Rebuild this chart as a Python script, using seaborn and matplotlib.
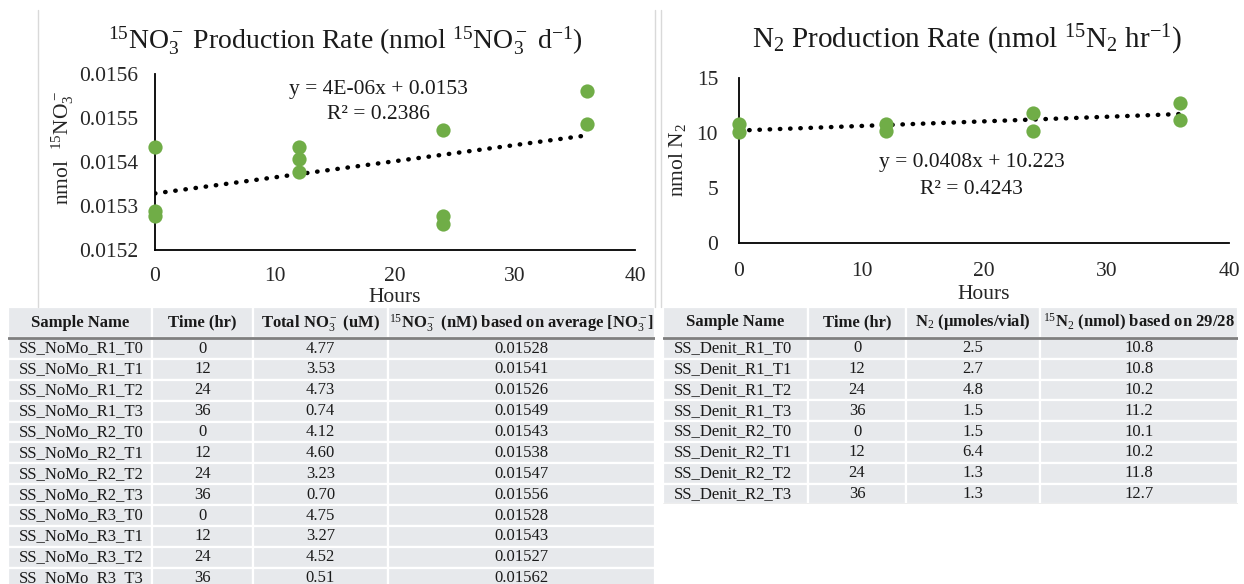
import numpy as np
import pandas as pd
import matplotlib
matplotlib.use("Agg")
import matplotlib.pyplot as plt
import seaborn as sns
from matplotlib.table import Table
from matplotlib.lines import Line2D
from matplotlib.ticker import FormatStrFormatter

# ---- 15NO3- incubation (left chart + table) ----
no3_samples = ["SS_NoMo_R1_T0", "SS_NoMo_R1_T1", "SS_NoMo_R1_T2", "SS_NoMo_R1_T3",
               "SS_NoMo_R2_T0", "SS_NoMo_R2_T1", "SS_NoMo_R2_T2", "SS_NoMo_R2_T3",
               "SS_NoMo_R3_T0", "SS_NoMo_R3_T1", "SS_NoMo_R3_T2", "SS_NoMo_R3_T3"]
no3_time = [0, 12, 24, 36, 0, 12, 24, 36, 0, 12, 24, 36]
no3_total = ["4.77", "3.53", "4.73", "0.74", "4.12", "4.60", "3.23", "0.70",
             "4.75", "3.27", "4.52", "0.51"]
no3_15 = ["0.01528", "0.01541", "0.01526", "0.01549", "0.01543", "0.01538",
          "0.01547", "0.01556", "0.01528", "0.01543", "0.01527", "0.01562"]

# points (R3_T3 is not plotted)
no3_hours = [0, 0, 0, 12, 12, 12, 24, 24, 24, 36, 36]
no3_vals = [0.015289, 0.015433, 0.015277, 0.015407, 0.015378, 0.015433,
            0.015259, 0.015473, 0.015277, 0.015487, 0.015561]

# ---- N2 incubation (right chart + table) ----
n2_samples = ["SS_Denit_R1_T0", "SS_Denit_R1_T1", "SS_Denit_R1_T2", "SS_Denit_R1_T3",
              "SS_Denit_R2_T0", "SS_Denit_R2_T1", "SS_Denit_R2_T2", "SS_Denit_R2_T3"]
n2_time = [0, 12, 24, 36, 0, 12, 24, 36]
n2_umol = ["2.5", "2.7", "4.8", "1.5", "1.5", "6.4", "1.3", "1.3"]
n2_15 = [10.8, 10.8, 10.2, 11.2, 10.1, 10.2, 11.8, 12.7]

no3_header = ["Sample Name", "Time (hr)", r"Total NO$_3^-$ (uM)",
              r"$^{15}$NO$_3^-$ (nM) based on average [NO$_3^-$]"]
n2_header = ["Sample Name", "Time (hr)", r"N$_2$ (µmoles/vial)",
             r"$^{15}$N$_2$ (nmol) based on 29/28"]

sns.set_style("white")
plt.rcParams["font.family"] = ["Liberation Serif", "DejaVu Serif"]
plt.rcParams["mathtext.fontset"] = "custom"
plt.rcParams["mathtext.rm"] = "Liberation Serif"
plt.rcParams["mathtext.it"] = "Liberation Serif:italic"
plt.rcParams["mathtext.bf"] = "Liberation Serif:bold"
plt.rcParams["text.color"] = "#1a1a1a"

W, H = 1244, 584
fig = plt.figure(figsize=(W / 100, H / 100), dpi=100)
green = "#70AD47"


def px_axes(l, t, r, b):
    return fig.add_axes([l / W, 1 - b / H, (r - l) / W, (b - t) / H])


def chart(ax, x, y, ylim, yticks, yfmt, xpad, ypad):
    df = pd.DataFrame({"Hours": x, "val": y})
    sns.regplot(data=df, x="Hours", y="val", ax=ax, scatter=False, ci=None, truncate=True,
                line_kws=dict(color="black", lw=3.2, ls=(0, (0.1, 2.2)),
                              dash_capstyle="round", zorder=2))
    sns.scatterplot(data=df, x="Hours", y="val", ax=ax, color=green, s=105,
                    linewidth=0, clip_on=False, zorder=4)
    ax.set_xlim(0, 40)
    ax.set_ylim(*ylim)
    ax.set_xticks([0, 10, 20, 30, 40])
    ax.set_yticks(yticks)
    ax.yaxis.set_major_formatter(FormatStrFormatter(yfmt))
    sns.despine(ax=ax)
    for s in ["left", "bottom"]:
        ax.spines[s].set_color("black")
        ax.spines[s].set_linewidth(1.3)
    ax.tick_params(axis="x", length=0, labelsize=15.5, pad=xpad)
    ax.tick_params(axis="y", length=0, labelsize=15.5, pad=ypad)
    ax.set_xlabel("Hours", fontsize=15.5)
    ax.set_ylabel("")


# left chart
ax1 = px_axes(155, 74, 635, 250)
chart(ax1, no3_hours, no3_vals, (0.0152, 0.0156),
      [0.0152, 0.0153, 0.0154, 0.0155, 0.0156], "%.4f", 12, 12)
ax1.xaxis.set_label_coords(0.5, -0.215)
ax1.set_ylabel(r"nmol  $^{15}$NO$_3^-$", fontsize=15.5)
ax1.yaxis.set_label_coords(-0.165, 0.58)
ax1.text(18.6, 0.015564, "y = 4E-06x + 0.0153", ha="center", va="center", fontsize=15.5)
ax1.text(18.6, 0.015507, "R² = 0.2386", ha="center", va="center", fontsize=15.5)
fig.text(345 / W, 1 - 40 / H,
         r"$^{15}$NO$_3^-$ Production Rate (nmol $^{15}$NO$_3^-$ d$^{-1}$)",
         ha="center", va="center", fontsize=20)

# right chart
ax2 = px_axes(739, 78, 1229, 243)
chart(ax2, n2_time, n2_15, (0, 15), [0, 5, 10, 15], "%d", 14, 15)
ax2.xaxis.set_label_coords(0.5, -0.255)
ax2.set_ylabel(r"nmol N$_2$", fontsize=15.5)
ax2.yaxis.set_label_coords(-0.104, 0.5)
ax2.text(19.0, 7.36, "y = 0.0408x + 10.223", ha="center", va="center", fontsize=15.5)
ax2.text(19.0, 4.85, "R² = 0.4243", ha="center", va="center", fontsize=15.5)
fig.text(967 / W, 1 - 40 / H,
         r"N$_2$ Production Rate (nmol $^{15}$N$_2$ hr$^{-1}$)",
         ha="center", va="center", fontsize=21)

# thin chart-area borders
for xb in [38, 655, 661]:
    fig.add_artist(Line2D([xb / W, xb / W], [1 - 10 / H, 1 - 307 / H],
                          color="#D9D9D9", lw=1))


def draw_table(ax, header, columns, widths, head_h, row_h, bottom_line=False):
    ax.set_axis_off()
    ax.set_xlim(0, 1)
    ax.set_ylim(0, 1)
    n = len(columns[0])
    tw = float(sum(widths))
    th = head_h + n * row_h
    fill = "#E7E9EC"
    tb = Table(ax, bbox=[0, 0, 1, 1])
    for c, lab in enumerate(header):
        cell = tb.add_cell(0, c, widths[c] / tw, head_h / th, text=lab, loc="center",
                           facecolor=fill, edgecolor="white")
        cell.set_linewidth(1.6)
        cell.get_text().set_fontweight("bold")
    for r in range(n):
        for c, col in enumerate(columns):
            loc = "left" if c == 0 else "center"
            cell = tb.add_cell(r + 1, c, widths[c] / tw, row_h / th, text=str(col[r]),
                               loc=loc, facecolor=fill, edgecolor="white")
            cell.set_linewidth(1.6)
            if c == 0:
                cell.PAD = 0.075
    tb.auto_set_font_size(False)
    tb.set_fontsize(12)
    ax.add_table(tb)
    ax.axhline(1 - head_h / th, color="#7F7F7F", lw=2)
    if bottom_line:
        ax.axhline(0, color="#A6A6A6", lw=1)


tax1 = px_axes(8, 307, 655, 588.6)
draw_table(tax1, no3_header, [no3_samples, no3_time, no3_total, no3_15],
           [144, 101, 135, 267], 31, 20.8)
tax2 = px_axes(663, 307, 1238, 504.4)
draw_table(tax2, n2_header, [n2_samples, n2_time, n2_umol, n2_15],
           [145, 98, 134, 198], 31, 20.8, bottom_line=True)

fig.savefig("out.png", dpi=100)
